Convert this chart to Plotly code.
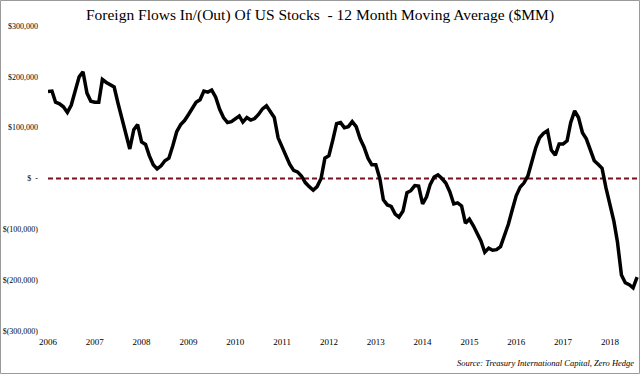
import pandas as pd
import plotly.graph_objects as go

# Monthly 12-month moving average of foreign flows into US stocks, $MM (thousands)
start_month = "2006-01-01"
flows_k = [
    171, 172, 150, 147, 141, 130, 144, 170, 200, 210, 168, 152,   # 2006
    150, 150, 195, 189, 184, 180, 148, 118, 88, 58, 96, 106,      # 2007
    72, 67, 45, 27, 19, 25, 35, 40, 65, 92, 106, 114,             # 2008
    126, 138, 150, 155, 172, 170, 174, 160, 136, 120, 110, 112,   # 2009
    117, 123, 111, 120, 115, 118, 126, 137, 143, 132, 120, 80,    # 2010
    62, 44, 28, 16, 13, 5, -8, -16, -23, -16, 0, 40,              # 2011
    45, 76, 108, 110, 100, 102, 112, 102, 78, 62, 40, 27,         # 2012
    27, 0, -42, -52, -55, -70, -76, -64, -28, -24, -14, -15,      # 2013
    -50, -36, -12, 3, 7, 0, -9, -26, -50, -48, -54, -88,          # 2014
    -80, -93, -109, -123, -145, -137, -141, -140, -134, -112, -90, -62,  # 2015
    -34, -17, -9, 5, 34, 60, 80, 89, 94, 56, 46, 68,              # 2016
    68, 74, 110, 133, 120, 90, 78, 55, 35, 28, 20, -18,           # 2017
    -52, -84, -125, -190, -205, -209, -215, -194,                 # 2018
]
flows = [v * 1000 for v in flows_k]
dates = pd.date_range(start_month, periods=len(flows), freq="MS")

y_tickvals = [300000, 200000, 100000, 0, -100000, -200000, -300000]
y_ticktext = ["$300,000", "$200,000", "$100,000", "$  -", "$(100,000)", "$(200,000)", "$(300,000)"]

title_text = "Foreign Flows In/(Out) Of US Stocks  - 12 Month Moving Average ($MM)"
source_text = "Source: Treasury International Capital, Zero Hedge"

W, H = 640, 374
L, R, T, B = 48, 1, 26, 43
pw, ph = W - L - R, H - T - B

fig = go.Figure()
fig.add_trace(go.Scatter(
    x=dates, y=flows, mode="lines",
    line=dict(color="#000000", width=3.5, shape="linear"),
    hoverinfo="skip", showlegend=False,
))

# zero reference line (dashed dark red)
fig.add_shape(type="line", xref="paper", yref="y", x0=0, x1=1, y0=0, y1=0,
              line=dict(color="#7a1020", width=2, dash="5px,3px"), layer="below")

# outer frame
fig.add_shape(type="rect", xref="paper", yref="paper",
              x0=(0.5 - L) / pw, x1=(W - 0.5 - L) / pw,
              y0=(H - B - (H - 0.5)) / ph, y1=(H - B - 0.5) / ph,
              line=dict(color="#9a9a9a", width=1), fillcolor="rgba(0,0,0,0)")

fig.add_annotation(text=source_text, xref="paper", yref="paper",
                   x=(636 - L) / pw, y=(H - B - 363) / ph, xanchor="right", yanchor="middle",
                   showarrow=False,
                   font=dict(family="Liberation Serif", size=8.5, color="#000000", style="italic"))

fig.update_layout(
    width=W, height=H,
    margin=dict(l=L, r=R, t=T, b=B, pad=0),
    paper_bgcolor="white", plot_bgcolor="white",
    title=dict(text=title_text, xref="container", yref="container", x=0.5, y=1 - 15 / H,
               xanchor="center", yanchor="middle",
               font=dict(family="Liberation Serif", size=15.5, color="#000000")),
    font=dict(family="Liberation Serif", color="#000000"),
    xaxis=dict(
        type="date", range=["2006-01-01", "2018-08-16"],
        tickmode="linear", tick0="2006-01-01", dtick="M12", tickformat="%Y",
        showgrid=False, zeroline=False, showline=False, ticks="",
        tickfont=dict(family="Liberation Serif", size=9, color="#000000"),
        ticklabelstandoff=4,
    ),
    yaxis=dict(
        range=[-300000, 300000],
        tickmode="array", tickvals=y_tickvals, ticktext=y_ticktext,
        showgrid=False, zeroline=False, showline=False, ticks="",
        tickfont=dict(family="Liberation Serif", size=8, color="#000000"),
        ticklabelstandoff=9,
    ),
)

fig.write_html(
    "out.html",
    config={"displayModeBar": False, "staticPlot": True},
    post_script="document.body.style.margin='0';document.body.style.overflow='hidden';",
)
